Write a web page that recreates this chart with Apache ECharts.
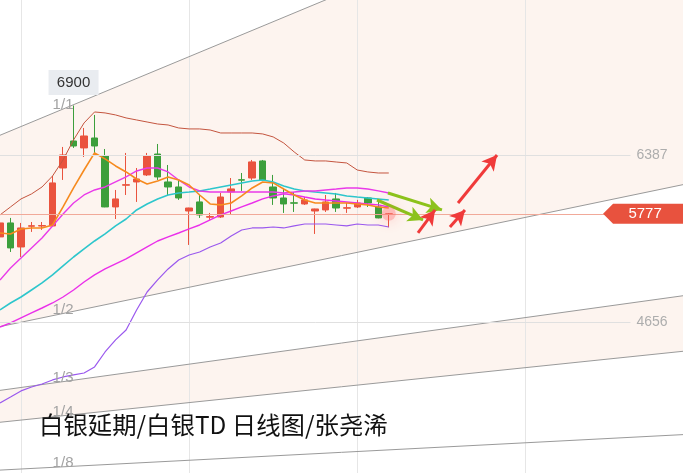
<!DOCTYPE html>
<html><head><meta charset="utf-8">
<script src="https://cdn.jsdelivr.net/npm/echarts@6/dist/echarts.min.js"></script>
<style>html,body{margin:0;padding:0;background:#fff}#c{width:683px;height:473px}</style>
</head><body><div id="c"></div>
<script>
// ---- data ----
const categories = Array.from({length: 66}, (_, i) => 'D' + (i + 1));
// [open, close, low, high]
const ohlc = [
[5537,5682,5506,5713],[5682,5423,5381,5734],[5433,5630,5329,5682],[5648,5653,5589,5692],
[5650,5655,5610,5692],[5651,6097,5640,6169],[6252,6387,6128,6470],[6532,6480,6460,6900],
[6460,6584,6366,6667],[6563,6480,6408,6802],[6377,5848,5845,6449],[5848,5931,5723,6024],
[6073,6079,5972,6408],[6107,6138,5900,6252],[6180,6377,6169,6408],[6397,6159,6128,6501],
[6107,6055,5972,6283],[6055,5941,5921,6128],[5806,5837,5454,5840],[5900,5765,5734,5972],
[5742,5748,5713,5786],[5744,5951,5734,5993],[6004,6035,5765,6148],[6130,6126,6014,6200],
[6148,6315,6128,6335],[6325,6128,6117,6335],[6055,5941,5869,6180],[5941,5879,5786,6045],
[5891,5887,5796,6004],[5879,5921,5869,5951],[5806,5827,5568,5830],[5817,5900,5796,5972],
[5931,5837,5796,5993],[5835,5840,5786,5889],[5848,5889,5837,5921],[5941,5889,5848,5951],
[5848,5734,5730,5900],[5770,5777,5637,5785]
];
const bollUpper = [5765,5848,5931,5983,6055,6169,6335,6543,6719,6833,6823,6802,6771,6750,6729,6708,6698,6667,6657,6657,6646,6615,6615,6615,6615,6605,6574,6511,6418,6335,6325,6325,6314,6304,6231,6211,6200,6200];
const ma5 = [5578,5568,5620,5630,5630,5661,5848,6045,6231,6408,6346,6273,6211,6138,6086,6117,6159,6128,6076,5972,5879,5869,5889,5962,6045,6107,6097,6034,5972,5920,5889,5889,5889,5889,5879,5869,5848,5837];
const maCyan = [4780,4852,4914,4987,5060,5143,5236,5329,5412,5495,5568,5651,5723,5817,5879,5931,5972,5993,6003,6014,6034,6055,6076,6097,6117,6128,6107,6066,6034,6014,6003,5993,5983,5962,5951,5941,5931,5920];
const maMagentaA = [5091,5215,5319,5423,5526,5651,5775,5889,5972,6024,6055,6107,6159,6221,6252,6252,6211,6128,6055,6014,6003,6003,6003,6003,6003,6003,6003,5993,6003,6014,6014,6024,6034,6045,6045,6034,6014,5993];
const maMagentaB = [4603,4645,4697,4749,4800,4852,4914,4987,5070,5143,5205,5257,5309,5371,5433,5495,5537,5578,5620,5661,5713,5765,5806,5848,5889,5931,5962,5983,5972,5951,5931,5920,5910,5900,5889,5879,5869,5848];
const bollLower = [3815,3877,3940,3981,4012,4054,4085,4106,4126,4189,4344,4469,4572,4780,4966,5091,5205,5298,5350,5381,5433,5474,5547,5609,5630,5630,5640,5630,5651,5671,5671,5671,5661,5651,5671,5661,5661,5640];
const gridPrices = [6387, 4656];
const lastPrice = 5777;
const peakPrice = 6900;
const peakIndex = 7;
// Gann fan: origin (bar index, price) and 1x1 slope (price per bar)
const fanOrigin = [-87.6, 2623];
const fanUnit = 45.3;
const fanRatios = [1, 1/2, 1/3, 1/4, 1/8];
const fanLabels = ['1/1', '1/2', '1/3', '1/4', '1/8'];
const fanBands = [[1, 1/2], [1/3, 1/4]];
const greenArrows = [[[36.92,5993],[42.06,5817]], [[35.88,5920],[40.26,5713]]];
const redArrows = [[[39.78,5578],[41.4,5817]], [[42.82,5640],[44.25,5817]], [[43.59,5889],[47.3,6387]]];
const titleText = '白银延期/白银TD 日线图/张尧浠';

// ---- chart ----
const fanPrice = (r, x) => fanOrigin[1] + r * fanUnit * (x - fanOrigin[0]);
const XMAX = categories.length - 1;
const chart = echarts.init(document.getElementById('c'));
const series = [];

series.push({
  type: 'custom', xAxisIndex: 1, yAxisIndex: 0, z: -1, silent: true,
  data: fanBands,
  renderItem: function (params, api) {
    const a = api.value(0), b = api.value(1);
    const x0 = -2, x1 = XMAX + 2;
    const pts = [api.coord([x0, fanPrice(a, x0)]), api.coord([x1, fanPrice(a, x1)]),
                 api.coord([x1, fanPrice(b, x1)]), api.coord([x0, fanPrice(b, x0)])];
    return {type: 'polygon', shape: {points: pts}, style: {fill: '#fdf4ef'}};
  }
});

// horizontal grid lines with their price labels
series.push({
  type: 'line', xAxisIndex: 1, yAxisIndex: 0, data: [], silent: true, z: 0,
  markLine: {
    symbol: 'none', silent: true,
    lineStyle: {color: '#e0e0e0', width: 1, type: 'solid'},
    label: {show: true, position: 'end', distance: 6, color: '#adadad', fontSize: 14,
            fontFamily: 'Liberation Sans', formatter: p => String(p.value)},
    data: gridPrices.map(v => [{coord: [0, v], value: v}, {coord: [60, v], value: v}])
  }
});

fanRatios.forEach((r, k) => {
  series.push({
    type: 'line', xAxisIndex: 1, yAxisIndex: 0, silent: true, symbol: 'none',
    lineStyle: {color: '#9a9a9a', width: 1},
    data: [[-1, fanPrice(r, -1)], [XMAX + 1, fanPrice(r, XMAX + 1)]],
    markPoint: {
      symbol: 'circle', symbolSize: 1, itemStyle: {color: 'rgba(0,0,0,0)'},
      label: {show: true, color: '#a3a3a3', fontSize: 15, fontFamily: 'Liberation Sans', offset: [0, -4],
              formatter: fanLabels[k]},
      data: [{coord: [6, fanPrice(r, 6)]}]
    }
  });
});

series.push({
  type: 'candlestick', xAxisIndex: 0, yAxisIndex: 0, barWidth: 7,
  data: ohlc,
  itemStyle: {color: '#ea533e', color0: '#3c9f3c', borderColor: '#ea533e', borderColor0: '#3c9f3c', borderWidth: 1},
  markLine: {
    silent: true, symbol: 'none', label: {show: false},
    lineStyle: {color: '#f1a999', width: 1, type: 'solid'},
    data: [{yAxis: lastPrice}]
  },
  markPoint: {
    data: [
      {coord: [peakIndex, peakPrice], symbol: 'rect', symbolSize: [50, 25], symbolOffset: [0, -23],
       itemStyle: {color: '#e9ecf0'},
       label: {show: true, formatter: String(peakPrice), color: '#333', fontSize: 15, fontFamily: 'Liberation Sans'}},
      {coord: [ohlc.length - 1, lastPrice], symbol: 'circle', symbolSize: 14,
       itemStyle: {color: 'rgba(255,110,110,0.35)', shadowBlur: 14, shadowColor: 'rgba(255,60,60,0.7)'},
       label: {show: false}}
    ]
  }
});

const lineDefs = [
  [bollUpper, '#c4553f', 1],
  [bollLower, '#9a58ee', 1.2],
  [maMagentaB, '#ea2fea', 1.4],
  [maCyan, '#2dc6cc', 1.6],
  [maMagentaA, '#e93ae9', 1.4],
  [ma5, '#f68a1e', 1.6]
];
lineDefs.forEach(d => series.push({
  type: 'line', xAxisIndex: 0, yAxisIndex: 0, silent: true, symbol: 'none',
  data: d[0], lineStyle: {color: d[1], width: d[2]}
}));

function arrowSeries(list, color) {
  return {
    type: 'line', xAxisIndex: 1, yAxisIndex: 0, data: [], silent: true,
    markLine: {
      symbol: ['none', 'arrow'], symbolSize: [12, 15], label: {show: false},
      lineStyle: {color: color, width: 3, type: 'solid'},
      data: list.map(a => [{coord: a[0]}, {coord: a[1]}])
    }
  };
}
series.push(arrowSeries(greenArrows, '#8cc21c'));
series.push(arrowSeries(redArrows, '#f03a3a'));

series.push({
  type: 'line', xAxisIndex: 1, yAxisIndex: 0, data: [], silent: true,
  markPoint: {
    symbol: 'path://M0,10L10,0L80,0L80,20L10,20Z', symbolSize: [80, 20], symbolKeepAspect: false,
    itemStyle: {color: '#e8523e'},
    label: {show: true, color: '#fff', fontSize: 15, fontFamily: 'Liberation Sans', offset: [2, 0],
            formatter: String(lastPrice)},
    data: [{coord: [61.2, lastPrice]}]
  }
});

chart.setOption({
  animation: false,
  backgroundColor: '#ffffff',
  title: {
    text: titleText, left: 34, top: 408,
    textStyle: {fontSize: 24.4, fontWeight: 'normal', color: '#111', fontFamily: 'Noto Sans CJK SC'}
  },
  grid: {left: 0, right: 0, top: 0, bottom: 0, containLabel: false},
  xAxis: [
    {type: 'category', data: categories, boundaryGap: false,
     axisLine: {show: false}, axisTick: {show: false}, axisLabel: {show: false},
     splitLine: {show: true, interval: (i) => (i - 2) % 16 === 0, lineStyle: {color: '#e6e6e6', width: 1}}},
    {type: 'value', min: 0, max: XMAX, show: false, splitLine: {show: false}}
  ],
  yAxis: [{
    type: 'value', min: 3089, max: 7994, show: false, splitLine: {show: false}
  }],
  series: series
});
</script>
</body></html>
